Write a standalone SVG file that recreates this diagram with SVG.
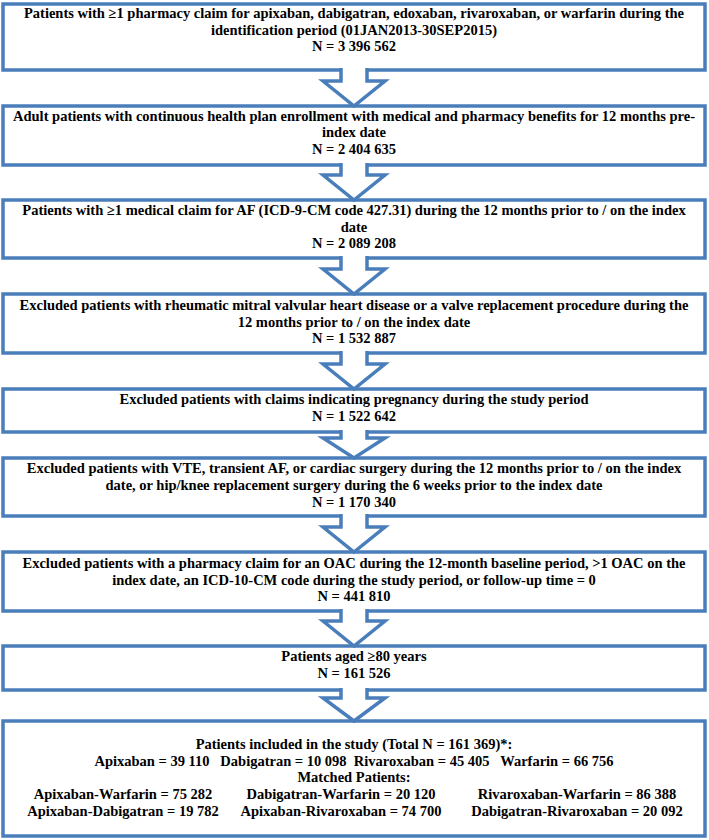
<svg xmlns="http://www.w3.org/2000/svg" width="709" height="840" viewBox="0 0 709 840">
<style>
.box{fill:#fff;stroke:#4a7ebb;stroke-width:3.5}
.arr{fill:#fff;stroke:#4a7ebb;stroke-width:3.5;stroke-linejoin:miter}
text{font-family:'Liberation Serif','Times New Roman',serif;font-weight:700;font-size:14.5px;fill:#000;text-anchor:middle}
</style>
<rect width="709" height="840" fill="#fff"/>
<g id="n1"><rect class="box" x="3" y="4" width="702" height="66"/>
<text x="354" y="18">Patients with ≥1 pharmacy claim for apixaban, dabigatran, edoxaban, rivaroxaban, or warfarin during the</text>
<text x="354" y="35">identification period (01JAN2013-30SEP2015)</text>
<text x="354" y="51">N = 3 396 562</text></g>
<g id="n2"><rect class="box" x="3" y="106" width="702" height="59"/>
<text x="354" y="121">Adult patients with continuous health plan enrollment with medical and pharmacy benefits for 12 months pre-</text>
<text x="354" y="137">index date</text>
<text x="354" y="154">N = 2 404 635</text></g>
<g id="n3"><rect class="box" x="3" y="200" width="702" height="58"/>
<text x="354" y="215">Patients with ≥1 medical claim for AF (ICD-9-CM code 427.31) during the 12 months prior to / on the index</text>
<text x="354" y="232">date</text>
<text x="354" y="248">N = 2 089 208</text></g>
<g id="n4"><rect class="box" x="3" y="294" width="702" height="59"/>
<text x="354" y="310">Excluded patients with rheumatic mitral valvular heart disease or a valve replacement procedure during the</text>
<text x="354" y="327">12 months prior to / on the index date</text>
<text x="354" y="343">N = 1 532 887</text></g>
<g id="n5"><rect class="box" x="3" y="389" width="702" height="43"/>
<text x="354" y="404">Excluded patients with claims indicating pregnancy during the study period</text>
<text x="354" y="421">N = 1 522 642</text></g>
<g id="n6"><rect class="box" x="3" y="458" width="702" height="58"/>
<text x="354" y="473">Excluded patients with VTE, transient AF, or cardiac surgery during the 12 months prior to / on the index</text>
<text x="354" y="490">date, or hip/knee replacement surgery during the 6 weeks prior to the index date</text>
<text x="354" y="507">N = 1 170 340</text></g>
<g id="n7"><rect class="box" x="3" y="552" width="702" height="59"/>
<text x="354" y="568">Excluded patients with a pharmacy claim for an OAC during the 12-month baseline period, &gt;1 OAC on the</text>
<text x="354" y="585">index date, an ICD-10-CM code during the study period, or follow-up time = 0</text>
<text x="354" y="601">N = 441 810</text></g>
<g id="n8"><rect class="box" x="3" y="646" width="702" height="44"/>
<text x="354" y="661">Patients aged ≥80 years</text>
<text x="354" y="678">N = 161 526</text></g>
<g id="n9"><rect class="box" x="3" y="721" width="702" height="115"/>
<text x="354" y="749">Patients included in the study (Total N = 161 369)*:</text>
<text x="354" y="766" xml:space="preserve">Apixaban = 39 110   Dabigatran = 10 098  Rivaroxaban = 45 405   Warfarin = 66 756</text>
<text x="354" y="782">Matched Patients:</text>
<text x="123" y="799">Apixaban-Warfarin = 75 282</text>
<text x="341" y="799">Dabigatran-Warfarin = 20 120</text>
<text x="577" y="799">Rivaroxaban-Warfarin = 86 388</text>
<text x="123" y="816">Apixaban-Dabigatran = 19 782</text>
<text x="341" y="816">Apixaban-Rivaroxaban = 74 700</text>
<text x="577" y="816">Dabigatran-Rivaroxaban = 20 092</text></g>
<g id="connectors">
<polyline class="arr" points="341,68 341,81 323,81 354,106 385,81 367,81 367,68"/>
<polyline class="arr" points="341,163 341,175 323,175 354,200 385,175 367,175 367,163"/>
<polyline class="arr" points="341,256 341,269 323,269 354,294 385,269 367,269 367,256"/>
<polyline class="arr" points="341,351 341,364 323,364 354,389 385,364 367,364 367,351"/>
<polyline class="arr" points="341,430 341,438 323,438 354,458 385,438 367,438 367,430"/>
<polyline class="arr" points="341,514 341,527 323,527 354,552 385,527 367,527 367,514"/>
<polyline class="arr" points="341,609 341,621 323,621 354,646 385,621 367,621 367,609"/>
<polyline class="arr" points="341,688 341,698 323,698 354,721 385,698 367,698 367,688"/>
</g>
</svg>
